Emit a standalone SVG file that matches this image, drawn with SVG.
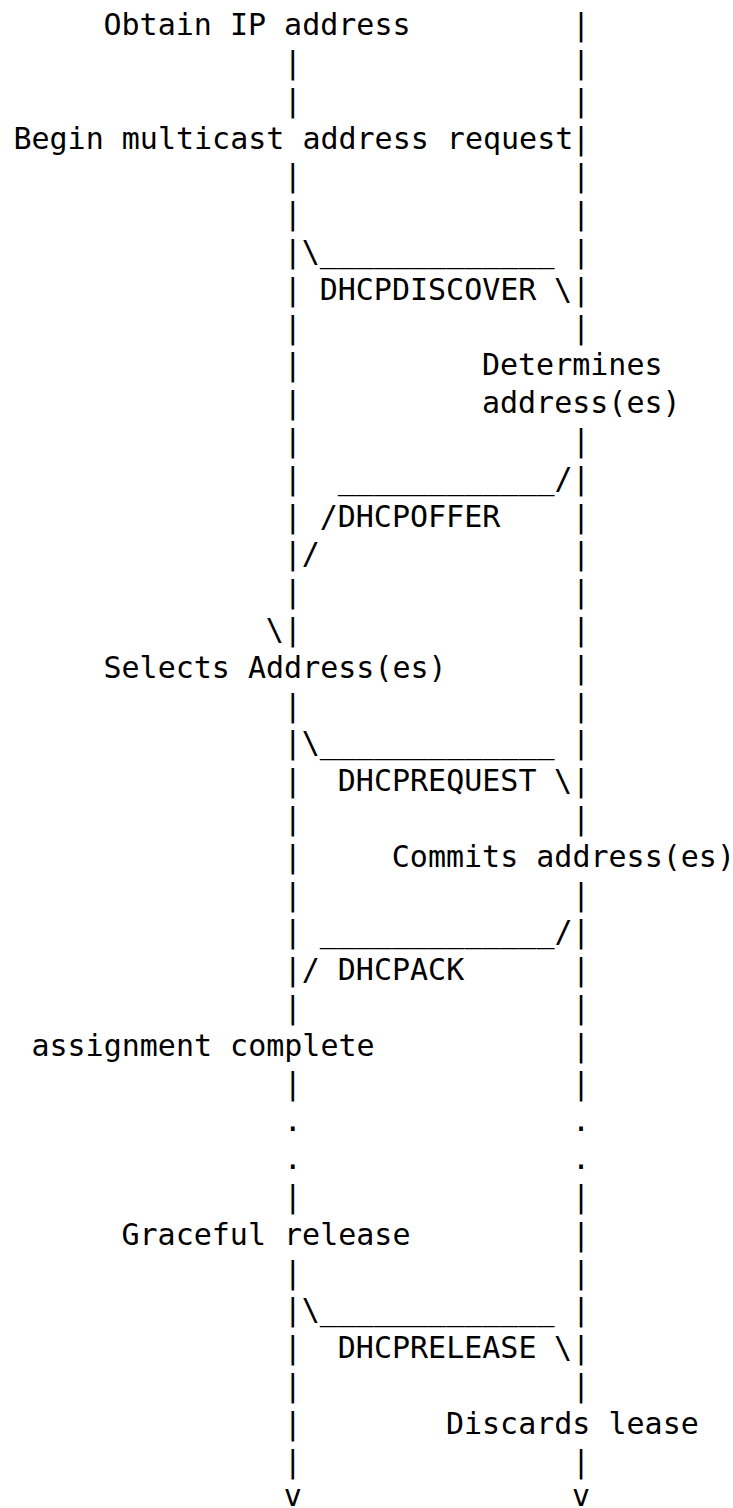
<svg xmlns="http://www.w3.org/2000/svg" width="733" height="1508" viewBox="0 0 733 1508">
<style>
text { font-family: "DejaVu Sans Mono", "Liberation Mono", monospace; font-size: 30px; fill: #000; }
</style>
<rect x="0" y="0" width="733" height="1508" fill="#fff"/>
<g id="connectors">
  <g id="lifeline-client">
    <text x="283.7" y="73.0">|</text>
    <text x="283.7" y="110.8">|</text>
    <text x="283.7" y="186.4">|</text>
    <text x="283.7" y="224.2">|</text>
    <text x="283.7" y="262.0">|</text>
    <text x="283.7" y="299.8">|</text>
    <text x="283.7" y="337.6">|</text>
    <text x="283.7" y="375.4">|</text>
    <text x="283.7" y="413.2">|</text>
    <text x="283.7" y="451.0">|</text>
    <text x="283.7" y="488.8">|</text>
    <text x="283.7" y="526.6">|</text>
    <text x="283.7" y="564.4">|</text>
    <text x="283.7" y="602.2">|</text>
    <text x="283.7" y="640.0">|</text>
    <text x="283.7" y="715.6">|</text>
    <text x="283.7" y="753.4">|</text>
    <text x="283.7" y="791.2">|</text>
    <text x="283.7" y="829.0">|</text>
    <text x="283.7" y="866.8">|</text>
    <text x="283.7" y="904.6">|</text>
    <text x="283.7" y="942.4">|</text>
    <text x="283.7" y="980.2">|</text>
    <text x="283.7" y="1018.0">|</text>
    <text x="283.7" y="1093.6">|</text>
    <text x="283.7" y="1131.4">.</text>
    <text x="283.7" y="1169.2">.</text>
    <text x="283.7" y="1207.0">|</text>
    <text x="283.7" y="1282.6">|</text>
    <text x="283.7" y="1320.4">|</text>
    <text x="283.7" y="1358.2">|</text>
    <text x="283.7" y="1396.0">|</text>
    <text x="283.7" y="1433.8">|</text>
    <text x="283.7" y="1471.6">|</text>
    <text x="283.7" y="1506">v</text>
  </g>
  <g id="lifeline-server">
    <text x="572.0" y="35.2">|</text>
    <text x="572.0" y="73.0">|</text>
    <text x="572.0" y="110.8">|</text>
    <text x="572.0" y="148.6">|</text>
    <text x="572.0" y="186.4">|</text>
    <text x="572.0" y="224.2">|</text>
    <text x="572.0" y="262.0">|</text>
    <text x="572.0" y="299.8">|</text>
    <text x="572.0" y="337.6">|</text>
    <text x="572.0" y="451.0">|</text>
    <text x="572.0" y="488.8">|</text>
    <text x="572.0" y="526.6">|</text>
    <text x="572.0" y="564.4">|</text>
    <text x="572.0" y="602.2">|</text>
    <text x="572.0" y="640.0">|</text>
    <text x="572.0" y="677.8">|</text>
    <text x="572.0" y="715.6">|</text>
    <text x="572.0" y="753.4">|</text>
    <text x="572.0" y="791.2">|</text>
    <text x="572.0" y="829.0">|</text>
    <text x="572.0" y="904.6">|</text>
    <text x="572.0" y="942.4">|</text>
    <text x="572.0" y="980.2">|</text>
    <text x="572.0" y="1018.0">|</text>
    <text x="572.0" y="1055.8">|</text>
    <text x="572.0" y="1093.6">|</text>
    <text x="572.0" y="1131.4">.</text>
    <text x="572.0" y="1169.2">.</text>
    <text x="572.0" y="1207.0">|</text>
    <text x="572.0" y="1244.8">|</text>
    <text x="572.0" y="1282.6">|</text>
    <text x="572.0" y="1320.4">|</text>
    <text x="572.0" y="1358.2">|</text>
    <text x="572.0" y="1396.0">|</text>
    <text x="572.0" y="1471.6">|</text>
    <text x="572.0" y="1506">v</text>
  </g>
  <g id="msg-discover">
    <text x="301.7" y="262.0">\_____________</text>
    <text x="319.7" y="299.8">DHCPDISCOVER</text>
    <text x="554.0" y="299.8">\</text>
  </g>
  <g id="msg-offer">
    <text x="337.8" y="488.8">____________/</text>
    <text x="319.7" y="526.6">/DHCPOFFER</text>
    <text x="301.7" y="564.4">/</text>
    <text x="265.7" y="640.0">\</text>
  </g>
  <g id="msg-request">
    <text x="301.7" y="753.4">\_____________</text>
    <text x="337.8" y="791.2">DHCPREQUEST</text>
    <text x="554.0" y="791.2">\</text>
  </g>
  <g id="msg-ack">
    <text x="319.7" y="942.4">_____________/</text>
    <text x="301.7" y="980.2">/</text>
    <text x="337.8" y="980.2">DHCPACK</text>
  </g>
  <g id="msg-release">
    <text x="301.7" y="1320.4">\_____________</text>
    <text x="337.8" y="1358.2">DHCPRELEASE</text>
    <text x="554.0" y="1358.2">\</text>
  </g>
</g>
<g id="obtain-ip"><text x="103.5" y="35.2">Obtain IP address</text></g>
<g id="begin-request"><text x="13.4" y="148.6">Begin multicast address request</text></g>
<g id="determines"><text x="481.9" y="375.4">Determines</text><text x="481.9" y="413.2">address(es)</text></g>
<g id="selects"><text x="103.5" y="677.8">Selects Address(es)</text></g>
<g id="commits"><text x="391.8" y="866.8">Commits address(es)</text></g>
<g id="assignment-complete"><text x="31.4" y="1055.8">assignment complete</text></g>
<g id="graceful-release"><text x="121.5" y="1244.8">Graceful release</text></g>
<g id="discards"><text x="445.9" y="1433.8">Discards lease</text></g>
</svg>
